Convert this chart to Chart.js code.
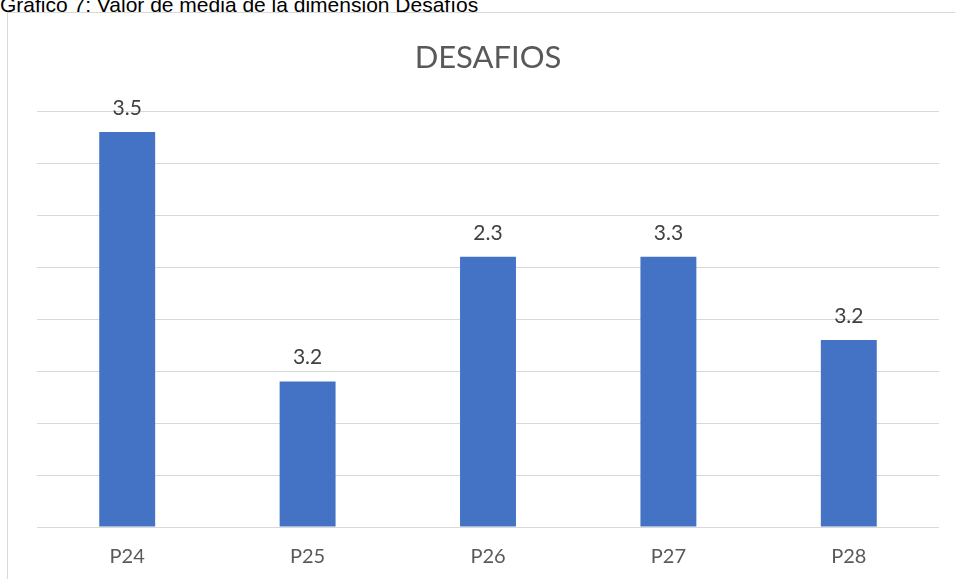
<!DOCTYPE html>
<html>
<head>
<meta charset="utf-8">
<title>Desafios</title>
<script src="https://cdn.jsdelivr.net/npm/chart.js"></script>
<style>
  html, body { margin: 0; padding: 0; background: #fff; overflow: hidden; }
  body { width: 955px; height: 579px; position: relative; }
  .caption { position: absolute; left: 0; top: -5px; font-family: 'Liberation Sans', Arial, sans-serif; font-size: 21px; line-height: 20px; color: #000; white-space: nowrap; }
  .box { position: absolute; left: 7px; top: 12px; width: 960px; height: 600px; border: 1px solid #d9d9d9; }
  .wrap { position: absolute; left: 8px; top: 13px; width: 947px; height: 584px; }
</style>
</head>
<body>
<div class="caption">Gráfico 7: Valor de media de la dimensión Desafíos</div>
<div class="box"></div>
<div class="wrap"><canvas id="chart"></canvas></div>
<script>
const categories = ['P24', 'P25', 'P26', 'P27', 'P28'];
// bar heights as drawn in the picture
const barValues = [3.8, 1.4, 2.6, 2.6, 1.8];
// labels printed above the bars
const barLabels = ['3.5', '3.2', '2.3', '3.3', '3.2'];

const labelPlugin = {
  id: 'barLabels',
  afterDatasetsDraw(chart) {
    const ctx = chart.ctx;
    const meta = chart.getDatasetMeta(0);
    ctx.save();
    ctx.font = '21px Lato, "Open Sans", sans-serif';
    ctx.fillStyle = '#404040';
    ctx.textAlign = 'center';
    ctx.textBaseline = 'alphabetic';
    meta.data.forEach((bar, i) => {
      ctx.fillText(barLabels[i], bar.x, bar.y - 17);
    });
    ctx.restore();
  }
};

new Chart(document.getElementById('chart'), {
  type: 'bar',
  data: {
    labels: categories,
    datasets: [{
      data: barValues,
      backgroundColor: '#4472C4',
      categoryPercentage: 1,
      barPercentage: 0.31
    }]
  },
  options: {
    responsive: true,
    maintainAspectRatio: false,
    animation: false,
    layout: { padding: { left: 29, right: 16, top: 0, bottom: 10 } },
    plugins: {
      legend: { display: false },
      tooltip: { enabled: false },
      title: {
        display: true,
        text: 'DESAFIOS',
        color: '#595959',
        font: { family: 'Lato, "Open Sans", sans-serif', size: 31, weight: 'normal' },
        padding: { top: 26, bottom: 35 }
      }
    },
    scales: {
      x: {
        grid: { display: false, drawTicks: false },
        border: { display: false },
        ticks: { color: '#595959', padding: 18, font: { family: 'Lato, "Open Sans", sans-serif', size: 20 } }
      },
      y: {
        min: 0,
        max: 4,
        ticks: { display: false, stepSize: 0.5 },
        grid: { color: '#d9d9d9', lineWidth: 1, drawTicks: false },
        border: { display: false }
      }
    }
  },
  plugins: [labelPlugin]
});
</script>
</body>
</html>
